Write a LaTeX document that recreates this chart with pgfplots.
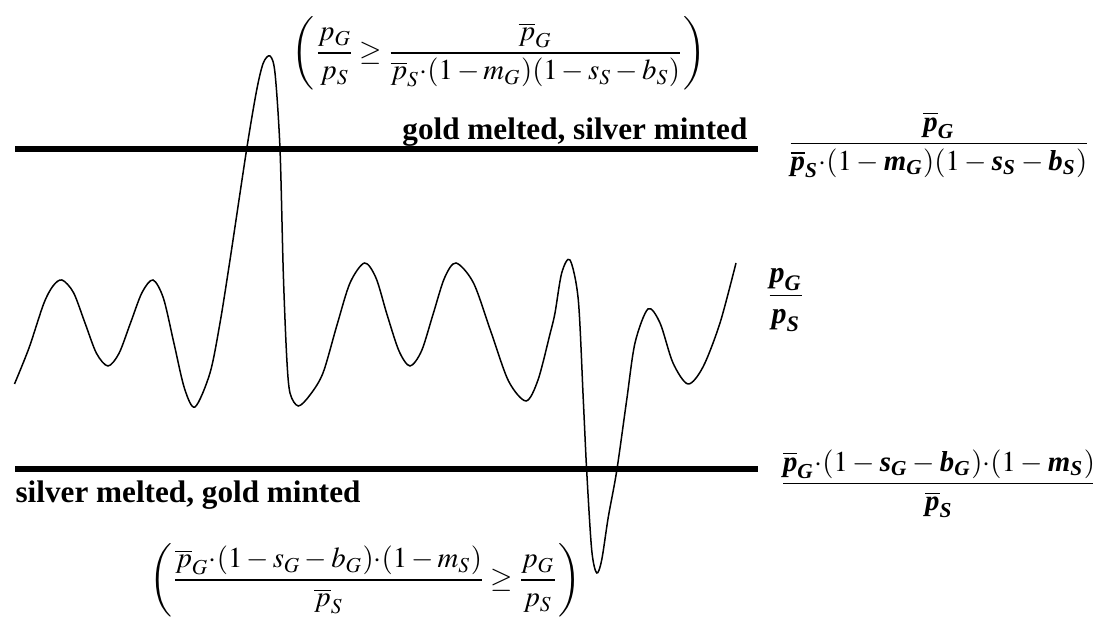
\documentclass[border=0pt]{standalone}
\usepackage{amsmath}
\usepackage{mathptmx}
\usepackage{fontspec}
\setmainfont{Liberation Serif}
\usepackage{pgfplots}
\pgfplotsset{compat=1.18}
\newcommand{\bi}[1]{\textbf{\textit{#1}}}
\newcommand{\md}{{\cdot}}
\newcommand{\lp}{\mathopen{\vcenter{\hbox{\scalebox{1}[0.85]{$\Biggl($}}}}}
\newcommand{\rp}{\mathclose{\vcenter{\hbox{\scalebox{1}[0.85]{$\Biggr)$}}}}}
\begin{document}
\medmuskip=3mu
\thickmuskip=4mu
\begin{tikzpicture}
\begin{axis}[
    scale only axis,
    width=364.3pt, height=209.3pt,
    xmin=0, xmax=1093, ymin=-628, ymax=0,
    axis lines=none, ticks=none, clip=false,
    every node/.style={font=\fontsize{10}{12}\selectfont},
  ]
  % ratio of prices, read off the picture (pixel x, -pixel y)
  \addplot[black, line width=0.5pt, smooth, tension=0.5] coordinates {
    (14.5,-384) (29,-348) (43.6,-304) (53,-286) (62,-280)
    (73.5,-292.6) (85,-323) (96.5,-353.4) (108,-366)
    (119,-353.4) (130.5,-323) (142,-292.6) (153,-280)
    (163.5,-298.5) (174,-343.5) (184.5,-388.5) (195,-407)
    (210,-373) (220,-323) (230,-260) (246.7,-149) (256.7,-90) (263.3,-63)
    (270,-56) (275,-73) (280,-149) (283.3,-273) (286.7,-357) (290,-393)
    (298.3,-406) (310,-395) (323,-373) (337,-325) (350,-283) (364.5,-263)
    (376,-278) (387,-314.5) (399,-351) (410,-366)
    (421.5,-351) (433,-314.5) (444.5,-278) (456,-263)
    (473.5,-283) (491,-332) (508.5,-381) (526,-401)
    (538,-380) (550,-334) (555,-313) (561.7,-273) (570,-260)
    (578.3,-300) (583.3,-400) (586.7,-471) (591.7,-550) (596.7,-573)
    (601.7,-560) (608.3,-517) (616.7,-471) (626.7,-400) (635,-343) (648,-309)
    (660,-323) (673,-363) (688,-384)
    (703,-367) (720,-323) (736,-263)
  };
  % melting points
  \addplot[black, line width=1.7pt] coordinates {(15,-149) (758,-149)};
  \addplot[black, line width=1.7pt] coordinates {(15,-469) (758,-469)};
  \node[anchor=base east, inner sep=0pt, font=\fontsize{10.4}{12}\selectfont\bfseries]
    at (axis cs:748,-140) {gold melted, silver minted};
  \node[anchor=base west, inner sep=0pt, font=\fontsize{10.4}{12}\selectfont\bfseries]
    at (axis cs:15,-503) {silver melted, gold minted};
  \node[inner sep=0pt, font=\fontsize{9.6}{12}\selectfont] at (axis cs:499,-53)
    {$\medmuskip=2.5mu\thickmuskip=3mu\lp\dfrac{p_G}{p_S}\geq
      \dfrac{\overline{p}_G}{\overline{p}_S\md(1-m_G)(1-s_S-b_S)}\rp$};
  \node[inner sep=0pt, font=\fontsize{9.6}{12}\selectfont] at (axis cs:365,-580)
    {$\medmuskip=2.5mu\thickmuskip=3mu\lp\dfrac{\overline{p}_G\md(1-s_G-b_G)\md(1-m_S)}{\overline{p}_S}
      \geq\dfrac{p_G}{p_S}\rp$};
  \node[font=\fontsize{9.6}{12}\selectfont] at (axis cs:939,-145) {$\dfrac{\overline{\bi{p}}_{\bi{G}}}
      {\overline{\bi{p}}_{\bi{S}}\md(1-\bi{m}_{\bi{G}})(1-\bi{s}_{\bi{S}}-\bi{b}_{\bi{S}})}$};
  \node at (axis cs:786,-300) {$\dfrac{\bi{p}_{\bi{G}}}{\bi{p}_{\bi{S}}}$};
  \node[font=\fontsize{9.6}{12}\selectfont] at (axis cs:939,-484) {$\dfrac{\overline{\bi{p}}_{\bi{G}}\md(1-\bi{s}_{\bi{G}}-\bi{b}_{\bi{G}})\md(1-\bi{m}_{\bi{S}})}
      {\overline{\bi{p}}_{\bi{S}}}$};
\end{axis}
\pgfresetboundingbox
\path (0,0) rectangle (364.3pt,209.3pt);
\end{tikzpicture}
\end{document}
